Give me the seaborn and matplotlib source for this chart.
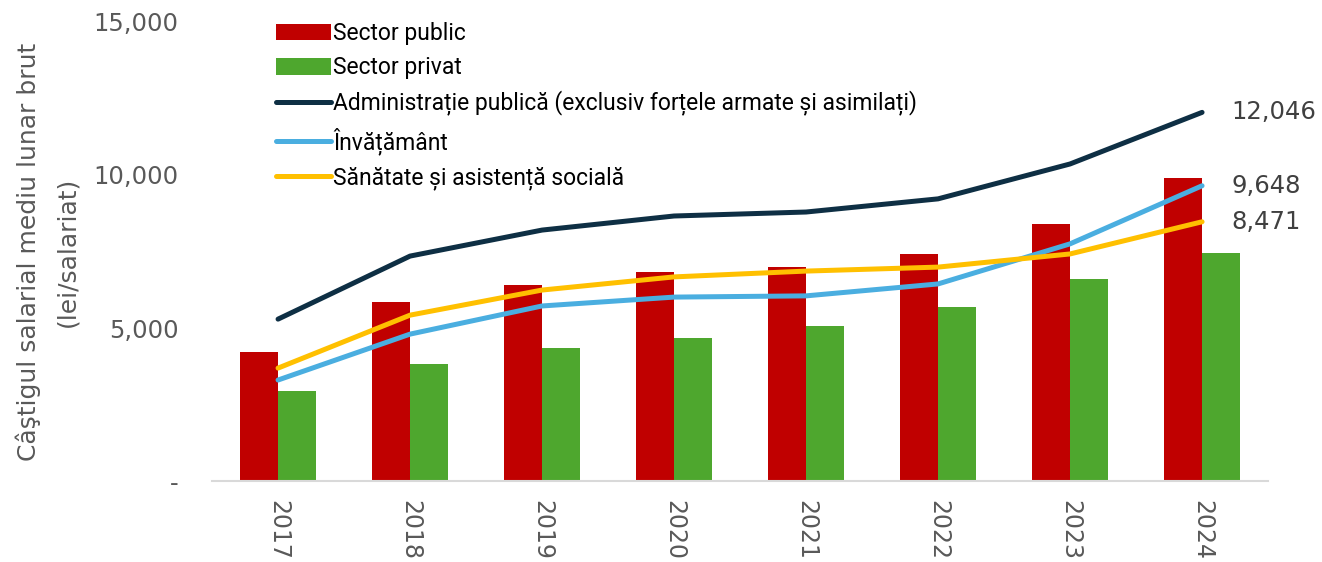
import numpy as np
import pandas as pd
import matplotlib
matplotlib.use("Agg")
import matplotlib.pyplot as plt
import seaborn as sns
from matplotlib.ticker import FuncFormatter

years = ["2017", "2018", "2019", "2020", "2021", "2022", "2023", "2024"]
sector_public = [4220, 5850, 6400, 6830, 7000, 7420, 8400, 9900]
sector_privat = [2950, 3820, 4350, 4670, 5070, 5690, 6600, 7450]
administratie = [5290, 7350, 8200, 8660, 8790, 9220, 10360, 12046]
invatamant = [3300, 4800, 5720, 6010, 6050, 6440, 7750, 9648]
sanatate = [3690, 5420, 6240, 6670, 6860, 6990, 7420, 8471]

bar_names = ["Sector public", "Sector privat"]
line_names = ["Administrație publică (exclusiv forțele armate și asimilați)",
              "Învățământ", "Sănătate și asistență socială"]
end_labels = ["12,046", "9,648", "8,471"]

c_red, c_green = "#c00000", "#4ea72e"
c_navy, c_blue, c_yellow = "#0e2f44", "#4aaee0", "#ffc000"
grey = "#595959"

sns.set_theme(style="white")
plt.rcParams["font.family"] = ["DejaVu Sans"]

df = pd.DataFrame({
    "An": years * 2,
    "Valoare": sector_public + sector_privat,
    "Sector": [bar_names[0]] * len(years) + [bar_names[1]] * len(years),
})

fig = plt.figure(figsize=(13.22, 5.62), dpi=100)
ax = fig.add_axes([0.1604, 0.1441, 0.7988, 0.8168])

sns.barplot(data=df, x="An", y="Valoare", hue="Sector", order=years,
            hue_order=bar_names, palette=[c_red, c_green], width=0.58,
            saturation=1, ax=ax, edgecolor="none", legend=True)

xpos = np.arange(len(years))
for vals, name, col in zip([administratie, invatamant, sanatate], line_names,
                           [c_navy, c_blue, c_yellow]):
    sns.lineplot(x=xpos, y=vals, color=col, lw=3.6, label=name, ax=ax,
                 solid_capstyle="round", solid_joinstyle="round")

for vals, txt in zip([administratie, invatamant, sanatate], end_labels):
    ax.text(len(years) - 1 + 0.22, vals[-1], txt, ha="left", va="center",
            fontsize=17.5, color="#404040")

ax.set_xlim(-0.5, 7.5)
ax.set_ylim(0, 15000)
ax.set_yticks([0, 5000, 10000, 15000])
ax.yaxis.set_major_formatter(FuncFormatter(lambda v, p: "-" if v == 0 else f"{int(v):,}"))
ax.tick_params(axis="y", length=0, labelsize=17.5, labelcolor=grey, pad=24)
ax.tick_params(axis="x", length=0, labelsize=17, labelcolor=grey, pad=14)
for lbl in ax.get_xticklabels():
    lbl.set_rotation(270)
ax.set_xlabel("")
ax.set_ylabel("Câştigul salarial mediu lunar brut\n(lei/salariat)", fontsize=18,
              color=grey, labelpad=10, linespacing=1.75)

for s in ["top", "right", "left"]:
    ax.spines[s].set_visible(False)
ax.spines["bottom"].set_color("#d9d9d9")
ax.spines["bottom"].set_linewidth(1.5)

handles, labels = ax.get_legend_handles_labels()
leg = ax.legend(handles, labels, loc="upper left",
                bbox_to_anchor=(0.0515, 1.02), frameon=False,
                prop={"family": ["Roboto", "DejaVu Sans"], "size": 16.5},
                handlelength=2.4, handleheight=0.75, handletextpad=0.12,
                labelspacing=0.5, borderaxespad=0)
for t in leg.get_texts():
    t.set_color("black")

fig.savefig("out.png", dpi=100)
